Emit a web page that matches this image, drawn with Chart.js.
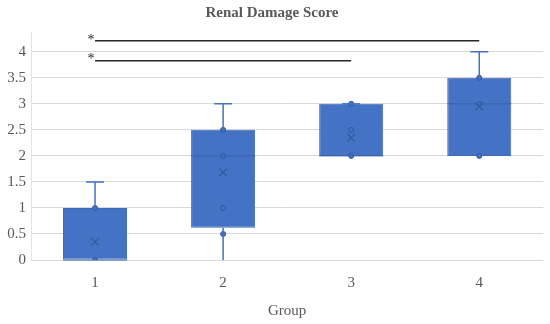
<!DOCTYPE html>
<html lang="en">
<head>
    <meta charset="UTF-8">
    <title>Renal Damage Score</title>
    <style>
        body { margin: 0; background: #fff; }
        #wrap { width: 550px; height: 324px; }
    </style>
</head>
<body>
    <div id="wrap"><canvas id="boxChart" width="550" height="324"></canvas></div>

    <script src="https://cdn.jsdelivr.net/npm/chart.js"></script>
    <script>
        // box plot values per group
        const groups = ['1', '2', '3', '4'];
        const mins = [0, 0, 2, 2];
        const q1s = [0, 0.62, 2, 2];
        const medians = [0, 2, 2, 3];
        const q3s = [1, 2.5, 3, 3.5];
        const maxes = [1.5, 3, 3, 4];
        const means = [0.35, 1.68, 2.35, 2.95];
        // visible data points
        const points = [
            [0, 1],
            [0.5, 1, 2, 2.5],
            [2, 2.5, 3],
            [2, 3, 3.5]
        ];
        // significance bars: level and last group spanned
        const sigLevels = [4.21, 3.83];
        const sigEnds = [4, 3];
        const yTicks = [0, 0.5, 1, 1.5, 2, 2.5, 3, 3.5, 4];

        const blue = '#4472C4';
        const darkBlue = '#2F5A9E';
        const textGray = '#595959';
        const serif = "'Liberation Serif', 'DejaVu Serif', serif";

        const pointData = [];
        points.forEach((list, i) => list.forEach(v => pointData.push({ x: groups[i], y: v })));

        const sigDatasets = sigLevels.map((lvl, k) => ({
            type: 'line',
            data: groups.map((g, i) => (i < sigEnds[k] ? lvl : null)),
            borderColor: '#262626',
            borderWidth: 1.5,
            pointRadius: 0,
            spanGaps: false,
            order: 0
        }));

        // whiskers, medians and asterisks
        const boxExtras = {
            id: 'boxExtras',
            afterDatasetsDraw(chart) {
                const ctx = chart.ctx;
                const x = chart.scales.x, y = chart.scales.y;
                const bars = chart.getDatasetMeta(0).data;
                ctx.save();
                groups.forEach((g, i) => {
                    const cx = x.getPixelForValue(i);
                    const half = bars[i].width / 2;
                    ctx.strokeStyle = blue;
                    ctx.lineWidth = 1.5;
                    ctx.beginPath();
                    // upper whisker
                    ctx.moveTo(cx, y.getPixelForValue(q3s[i]));
                    ctx.lineTo(cx, y.getPixelForValue(maxes[i]));
                    ctx.moveTo(cx - 9, y.getPixelForValue(maxes[i]));
                    ctx.lineTo(cx + 9, y.getPixelForValue(maxes[i]));
                    // lower whisker
                    if (mins[i] < q1s[i]) {
                        ctx.moveTo(cx, y.getPixelForValue(q1s[i]));
                        ctx.lineTo(cx, y.getPixelForValue(mins[i]));
                    }
                    ctx.stroke();
                    // median
                    ctx.beginPath();
                    ctx.strokeStyle = '#3A63AD';
                    ctx.lineWidth = 1;
                    ctx.moveTo(cx - half, y.getPixelForValue(medians[i]));
                    ctx.lineTo(cx + half, y.getPixelForValue(medians[i]));
                    ctx.stroke();
                });
                ctx.fillStyle = '#262626';
                ctx.font = '14px ' + serif;
                ctx.textAlign = 'center';
                ctx.textBaseline = 'bottom';
                sigLevels.forEach(lvl => {
                    ctx.fillText('*', x.getPixelForValue(0) - 4, y.getPixelForValue(lvl) + 6);
                });
                ctx.restore();
            }
        };

        const ctx = document.getElementById('boxChart').getContext('2d');
        new Chart(ctx, {
            data: {
                labels: groups,
                datasets: [
                    {
                        type: 'bar',
                        data: groups.map((g, i) => [q1s[i], q3s[i]]),
                        backgroundColor: blue,
                        borderColor: '#3F69B6',
                        borderWidth: 1,
                        borderSkipped: false,
                        barPercentage: 0.5,
                        categoryPercentage: 1,
                        order: 2
                    },
                    {
                        type: 'line',
                        data: groups.map((g, i) => means[i]),
                        showLine: false,
                        pointStyle: 'crossRot',
                        pointRadius: 5.5,
                        borderColor: '#35599B',
                        borderWidth: 1.2,
                        order: 1
                    },
                    {
                        type: 'line',
                        data: pointData,
                        showLine: false,
                        pointStyle: 'circle',
                        pointRadius: 2.5,
                        backgroundColor: blue,
                        borderColor: darkBlue,
                        borderWidth: 1,
                        order: 1
                    },
                    ...sigDatasets
                ]
            },
            options: {
                responsive: false,
                animation: false,
                layout: { padding: { left: 0, right: 6, top: 0, bottom: 4 } },
                plugins: {
                    legend: { display: false },
                    tooltip: { enabled: false },
                    title: {
                        display: true,
                        text: 'Renal Damage Score',
                        color: textGray,
                        font: { family: serif, size: 15, weight: 'bold' },
                        padding: { top: 4, bottom: 10 }
                    }
                },
                scales: {
                    x: {
                        afterFit(scale) { scale.height = 60; },
                        grid: { display: false, drawTicks: false },
                        border: { display: false },
                        ticks: { color: textGray, font: { family: serif, size: 15 }, padding: 14 },
                        title: {
                            display: true,
                            text: 'Group',
                            color: textGray,
                            font: { family: serif, size: 15 },
                            padding: { top: 0, bottom: 0 }
                        }
                    },
                    y: {
                        min: 0,
                        max: 4.38,
                        afterBuildTicks(scale) {
                            scale.ticks = yTicks.map(v => ({ value: v }));
                        },
                        afterFit(scale) { scale.width = 31; },
                        grid: { color: '#D9D9D9', lineWidth: 1, drawTicks: false },
                        border: { display: true, color: '#E3E3E3' },
                        ticks: {
                            color: textGray,
                            font: { family: serif, size: 15 },
                            padding: 5,
                            callback: v => String(v)
                        }
                    }
                }
            },
            plugins: [boxExtras]
        });
    </script>
</body>
</html>
